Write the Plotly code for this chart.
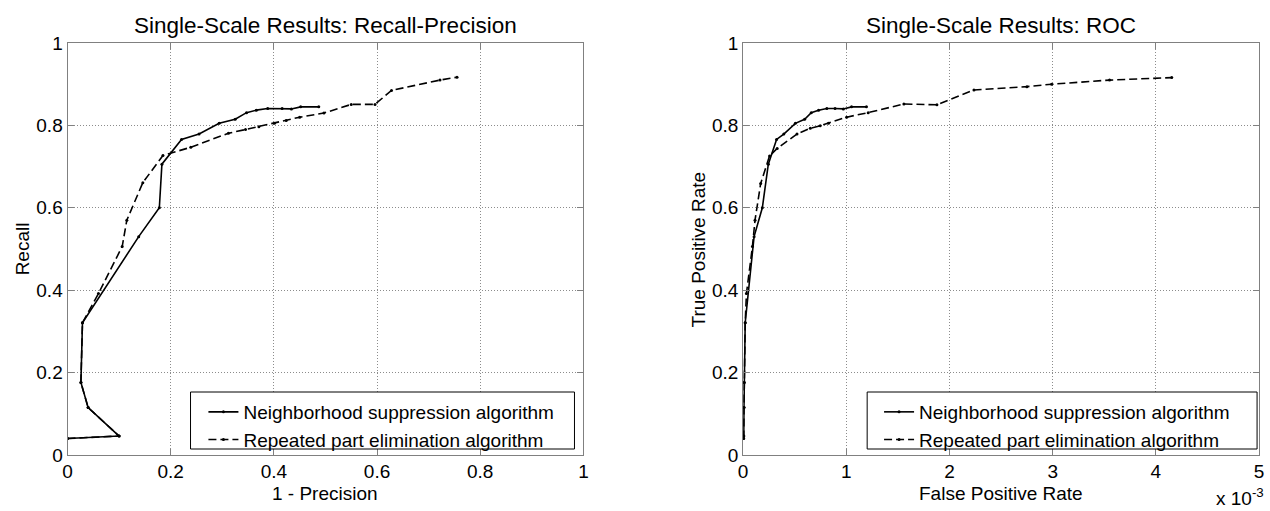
import plotly.graph_objects as go

# Neighborhood suppression algorithm (solid) - shared recall for both panels
ns_recall = [0.040, 0.046, 0.115, 0.176, 0.321, 0.530, 0.600, 0.706, 0.766, 0.779,
             0.805, 0.815, 0.831, 0.837, 0.841, 0.841, 0.840, 0.845, 0.845]
ns_one_minus_prec = [0.000, 0.100, 0.040, 0.026, 0.029, 0.138, 0.178, 0.183, 0.221, 0.255,
                     0.294, 0.325, 0.347, 0.366, 0.388, 0.416, 0.434, 0.452, 0.487]
ns_fpr = [0.004, 0.006, 0.008, 0.010, 0.020, 0.106, 0.186, 0.244, 0.324, 0.394,
          0.506, 0.596, 0.660, 0.731, 0.811, 0.891, 0.971, 1.051, 1.195]  # x 10^-3

# Repeated part elimination algorithm (dashed)
rp_recall_pr = [0.040, 0.046, 0.115, 0.176, 0.321, 0.392, 0.506, 0.570, 0.661, 0.727,
                0.747, 0.781, 0.790, 0.797, 0.805, 0.812, 0.820, 0.830, 0.851, 0.851,
                0.885, 0.910, 0.917]
rp_one_minus_prec = [0.000, 0.100, 0.040, 0.026, 0.029, 0.060, 0.106, 0.115, 0.146, 0.185,
                     0.239, 0.312, 0.345, 0.371, 0.401, 0.424, 0.450, 0.497, 0.550, 0.596,
                     0.628, 0.722, 0.755]
rp_recall_roc = [0.040, 0.046, 0.115, 0.176, 0.321, 0.392, 0.506, 0.570, 0.659, 0.726,
                 0.744, 0.779, 0.793, 0.799, 0.805, 0.820, 0.831, 0.852, 0.850, 0.886,
                 0.894, 0.900, 0.910, 0.916]
rp_fpr = [0.004, 0.006, 0.008, 0.010, 0.020, 0.032, 0.090, 0.115, 0.170, 0.256,
          0.330, 0.522, 0.651, 0.747, 0.827, 1.003, 1.212, 1.558, 1.878, 2.237,
          2.750, 2.990, 3.551, 4.154]

NS_NAME = "Neighborhood suppression algorithm"
RP_NAME = "Repeated part elimination algorithm"

W, H = 1270, 511
FONT = "Arial, Liberation Sans, sans-serif"

def px_x(p):
    return p / W

def px_y(p):
    # paper y for pixel p (plot area spans 43..455)
    return (455 - p) / 412

fig = go.Figure()

solid = dict(color="black", width=1.6)
dashed = dict(color="black", width=1.6, dash="8px,4px")
mk = dict(size=3, color="black")

fig.add_trace(go.Scatter(x=ns_one_minus_prec, y=ns_recall, mode="lines+markers", name=NS_NAME,
                         line=solid, marker=mk, legend="legend"))
fig.add_trace(go.Scatter(x=rp_one_minus_prec, y=rp_recall_pr, mode="lines+markers", name=RP_NAME,
                         line=dashed, marker=mk, legend="legend"))
fig.add_trace(go.Scatter(x=ns_fpr, y=ns_recall, mode="lines+markers", name=NS_NAME,
                         line=solid, marker=mk, xaxis="x2", yaxis="y2", legend="legend2"))
fig.add_trace(go.Scatter(x=rp_fpr, y=rp_recall_roc, mode="lines+markers", name=RP_NAME,
                         line=dashed, marker=mk, xaxis="x2", yaxis="y2", legend="legend2"))

ax = dict(showline=True, linecolor="#808080", linewidth=1, mirror="ticks",
          ticks="inside", ticklen=6, tickcolor="#808080",
          showgrid=True, gridcolor="#8c8c8c", griddash="1px,2px", gridwidth=1,
          zeroline=False, tickfont=dict(family=FONT, size=19, color="black"))

leg = dict(xanchor="left", yanchor="top", bgcolor="rgba(0,0,0,0)", borderwidth=0,
           itemwidth=30, font=dict(family=FONT, size=19, color="black"))

fig.update_layout(
    width=W, height=H,
    margin=dict(l=0, r=0, t=43, b=56),
    paper_bgcolor="white", plot_bgcolor="white",
    font=dict(family=FONT, size=19, color="black"),
    xaxis=dict(domain=[px_x(63), px_x(583)], range=[0, 1], dtick=0.2, anchor="y",
               ticklabelstandoff=-1, **ax),
    yaxis=dict(range=[0, 1], dtick=0.2, anchor="x", **ax),
    xaxis2=dict(domain=[px_x(744), px_x(1264)], range=[0, 5], dtick=1, anchor="y2",
                ticklabelstandoff=-1, **ax),
    yaxis2=dict(range=[0, 1], dtick=0.2, anchor="x2", **ax),
    legend=dict(x=px_x(200), y=px_y(393), **leg),
    legend2=dict(x=px_x(881), y=px_y(393), **leg),
)

# opaque legend boxes
for x0, x1 in [(187, 574), (869, 1262)]:
    fig.add_shape(type="rect", xref="paper", yref="paper",
                  x0=px_x(x0), x1=px_x(x1), y0=px_y(449), y1=px_y(392),
                  line=dict(color="black", width=1), fillcolor="white", layer="above")

ann = [
    dict(text="Single-Scale Results: Recall-Precision", x=px_x(323), y=px_y(25), size=22.5),
    dict(text="Single-Scale Results: ROC", x=px_x(1004), y=px_y(25), size=22.5),
    dict(text="1 - Precision", x=px_x(323), y=px_y(493), size=19),
    dict(text="False Positive Rate", x=px_x(1004), y=px_y(493), size=19),
    dict(text="Recall", x=px_x(17.5), y=px_y(249), size=19, textangle=-90),
    dict(text="True Positive Rate", x=px_x(699), y=px_y(249), size=19, textangle=-90),
]
for a in ann:
    size = a.pop("size")
    fig.add_annotation(xref="paper", yref="paper", showarrow=False,
                       xanchor="center", yanchor="middle",
                       font=dict(family=FONT, size=size, color="black"), **a)
fig.add_annotation(text="x 10<sup>-3</sup>", xref="paper", yref="paper", showarrow=False,
                   x=px_x(1271), y=px_y(511), xanchor="right", yanchor="bottom",
                   font=dict(family=FONT, size=19, color="black"))

fig.write_html("out.html", config={"displayModeBar": False},
               post_script="document.body.style.margin='0';")
